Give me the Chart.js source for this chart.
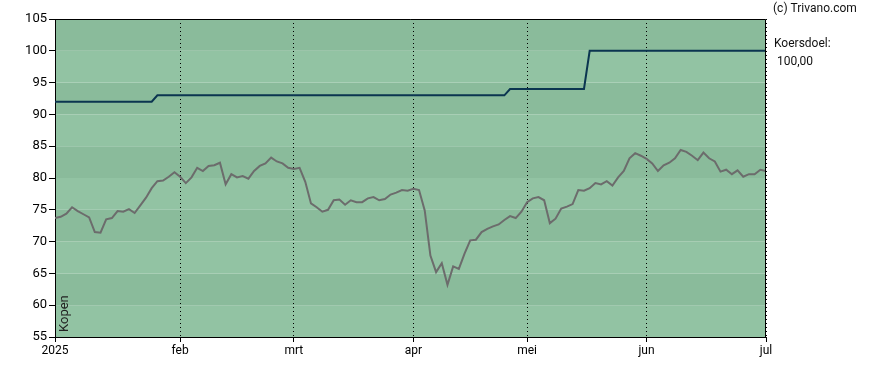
<!DOCTYPE html>
<html>
<head>
<meta charset="utf-8">
<title>Koersverloop</title>
<script src="https://cdn.jsdelivr.net/npm/chart.js@4.4.1/dist/chart.umd.min.js"></script>
<style>
  body { margin: 0; background: #fff; }
  #wrap { width: 888px; height: 370px; }
</style>
</head>
<body>
<div id="wrap"><canvas id="myChart" width="888" height="370"></canvas></div>
<script>

// month ticks (trading day index) and their labels
var monthIdx = [0, 22, 42, 63, 83, 104, 125];
var monthLabels = ['2025', 'feb', 'mrt', 'apr', 'mei', 'jun', 'jul'];

var yTicks = [55, 60, 65, 70, 75, 80, 85, 90, 95, 100, 105];

// closing prices, one per trading day
var priceVals = [
  73.7, 73.9, 74.4, 75.4, 74.8, 74.3, 73.8, 71.5, 71.4, 73.5,
  73.7, 74.8, 74.7, 75.1, 74.5, 75.7, 76.9, 78.4, 79.5, 79.6,
  80.2, 80.9, 80.2, 79.2, 80.1, 81.6, 81.1, 81.9, 82.0, 82.4,
  79.0, 80.6, 80.1, 80.3, 79.9, 81.1, 81.9, 82.3, 83.2, 82.6,
  82.3, 81.6, 81.4, 81.6, 79.4, 76.0, 75.4, 74.7, 75.0, 76.5,
  76.6, 75.8, 76.5, 76.2, 76.2, 76.8, 77.0, 76.5, 76.7, 77.4,
  77.7, 78.1, 78.0, 78.3, 78.1, 74.9, 67.8, 65.2, 66.6, 63.2,
  66.1, 65.7, 68.1, 70.2, 70.3, 71.5, 72.0, 72.4, 72.7, 73.4,
  74.0, 73.7, 74.7, 76.2, 76.8, 77.0, 76.5, 72.9, 73.6, 75.2,
  75.5, 75.9, 78.1, 78.0, 78.4, 79.2, 79.0, 79.5, 78.8, 80.1,
  81.1, 83.1, 83.9, 83.5, 83.0, 82.3, 81.1, 82.0, 82.4, 83.1,
  84.4, 84.1, 83.5, 82.8, 84.0, 83.1, 82.6, 81.0, 81.3, 80.6,
  81.2, 80.2, 80.6, 80.6, 81.3, 81.1
];

// koersdoel steps
var targetIdx = [0, 17, 18, 79, 80, 93, 94, 125];
var targetVals = [92, 92, 93, 93, 94, 94, 100, 100];

var bandDark = '#8abb9b';
var bandLight = '#92c3a3';

var bgPlugin = {
  id: 'bands',
  beforeDraw: function(chart) {
    var ctx = chart.ctx;
    var area = chart.chartArea;
    var y = chart.scales.y;

    for (var i = 0; i < yTicks.length - 1; i++) {
      var top = y.getPixelForValue(yTicks[i + 1]);
      var bottom = y.getPixelForValue(yTicks[i]);
      ctx.fillStyle = (i % 2 == 1) ? bandDark : bandLight;
      ctx.fillRect(area.left, top, area.right - area.left, bottom - top);
    }
  },
  afterDraw: function(chart) {
    var ctx = chart.ctx;
    var area = chart.chartArea;

    // frame top + right
    ctx.save();
    ctx.strokeStyle = '#000';
    ctx.lineWidth = 1;
    ctx.beginPath();
    ctx.moveTo(area.left, area.top + 0.5);
    ctx.lineTo(area.right - 0.5, area.top + 0.5);
    ctx.lineTo(area.right - 0.5, area.bottom);
    ctx.stroke();

    ctx.fillStyle = '#111';
    ctx.font = '12px Roboto';
    ctx.textAlign = 'left';
    ctx.textBaseline = 'alphabetic';
    ctx.fillText('(c) Trivano.com', 773, 12);
    ctx.fillText('Koersdoel:', 774, 47);
    ctx.fillText('100,00', 777, 65);

    ctx.translate(area.left + 13, area.bottom - 5);
    ctx.rotate(-Math.PI / 2);
    ctx.font = '13px Roboto';
    ctx.fillStyle = '#222';
    ctx.fillText('Kopen', 0, 0);
    ctx.restore();
  }
};

function stampChart() {

  var ctx = document.getElementById('myChart').getContext('2d');

  var chart = new Chart(ctx, {
    type: 'line',
    data: {
      datasets: [{
        label: 'Koersdoel',
        data: targetIdx.map(function(v, i) { return { x: v, y: targetVals[i] }; }),
        borderColor: '#0b3550',
        borderWidth: 2,
        pointRadius: 0,
        tension: 0
      }, {
        label: 'Koers',
        data: priceVals.map(function(v, i) { return { x: i, y: v }; }),
        borderColor: '#6c6c6c',
        borderWidth: 2,
        pointRadius: 0,
        tension: 0
      }]
    },
    options: {
      responsive: false,
      animation: false,
      layout: { padding: { top: 19, right: 122, left: 0, bottom: 0 } },
      plugins: {
        legend: { display: false },
        tooltip: { enabled: false }
      },
      scales: {
        x: {
          type: 'linear',
          min: 0,
          max: 125,
          afterBuildTicks: function(scale) {
            scale.ticks = monthIdx.map(function(v) { return { value: v }; });
          },
          afterFit: function(scale) { scale.height = 33; },
          ticks: {
            autoSkip: false,
            maxRotation: 0,
            color: '#000',
            padding: 2,
            font: { family: 'Roboto', size: 12 },
            callback: function(v) { return monthLabels[monthIdx.indexOf(v)]; }
          },
          grid: {
            color: '#000',
            lineWidth: 1,
            tickLength: 5,
            tickColor: '#000'
          },
          border: { color: '#000', width: 1, dash: [1, 3] }
        },
        y: {
          min: 55,
          max: 105,
          afterFit: function(scale) { scale.width = 55; },
          ticks: {
            stepSize: 5,
            color: '#000',
            padding: 2,
            font: { family: 'Roboto', size: 13 }
          },
          grid: {
            drawOnChartArea: false,
            tickLength: 6,
            tickColor: '#000'
          },
          border: { color: '#000', width: 1 }
        }
      }
    },
    plugins: [bgPlugin]
  });
}

function init() {
  stampChart();
}

init();
</script>
</body>
</html>
